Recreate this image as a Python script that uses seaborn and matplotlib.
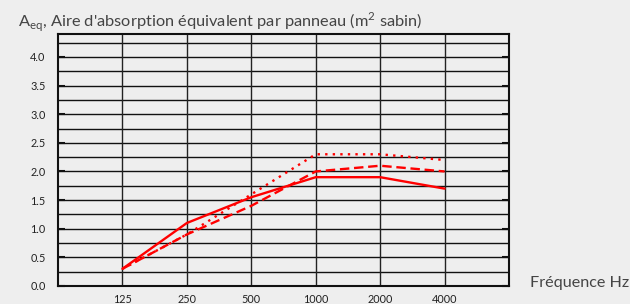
import numpy as np
import pandas as pd
import matplotlib
matplotlib.use("Agg")
import matplotlib.pyplot as plt
import seaborn as sns

# values
freqs = ["125", "250", "500", "1000", "2000", "4000"]
solid = [0.3, 1.1, 1.55, 1.9, 1.9, 1.7]
dashed = [0.3, 0.9, 1.4, 2.0, 2.1, 2.0]
dotted = [0.3, 0.9, 1.6, 2.3, 2.3, 2.2]

pos = np.arange(1, len(freqs) + 1)
df = pd.DataFrame({
    "pos": np.tile(pos, 3),
    "A": solid + dashed + dotted,
    "serie": ["a"] * 6 + ["b"] * 6 + ["c"] * 6,
})

sns.set_style("white")
plt.rcParams["font.family"] = ["Lato", "DejaVu Sans"]
plt.rcParams["mathtext.fontset"] = "custom"
plt.rcParams["mathtext.rm"] = "Lato"

bg = "#eeeeee"
fig = plt.figure(figsize=(6.3, 3.04), dpi=100, facecolor=bg)
ax = fig.add_axes([58 / 630, 1 - 286 / 304, 451 / 630, 252 / 304])
ax.set_facecolor(bg)

# grid
for y in np.arange(0.25, 4.3, 0.25):
    ax.axhline(y, color="#111111", lw=1.0, zorder=1)
for x in range(1, 7):
    ax.axvline(x, color="#222222", lw=1.0, zorder=1)

sns.lineplot(data=df, x="pos", y="A", style="serie",
             dashes={"a": "", "b": (4, 2), "c": (1, 2.2)},
             color="#ff0000", lw=1.7, legend=False, ax=ax, zorder=3)

ax.set_xlim(0, 7)
ax.set_ylim(0, 4.4)
ax.set_xticks(pos)
ax.set_xticklabels(freqs)
ax.set_yticks(np.arange(0, 4.01, 0.5))
ax.set_yticklabels([f"{v:.1f}" for v in np.arange(0, 4.01, 0.5)])
ax.tick_params(axis="both", labelsize=7.8, colors="#222222", length=0, pad=6)
ax.tick_params(axis="y", direction="in", length=5, width=1.5, right=True,
               left=True, color="#111111", pad=9)
ax.set_xlabel("")
ax.set_ylabel("")
for s in ax.spines.values():
    s.set_color("#111111")
    s.set_linewidth(1.5)
    s.set_visible(True)

fig.text(18 / 630, 1 - 22 / 304,
         r"A$_{\mathrm{eq}}$, Aire d'absorption équivalent par panneau (m$^{\mathrm{2}}$ sabin)",
         fontsize=11.8, color="#444444", va="center", ha="left")
fig.text(530 / 630, 1 - 283 / 304, "Fréquence Hz", fontsize=11.6,
         color="#444444", va="center", ha="left")

fig.savefig("out.png", dpi=100, facecolor=bg)
